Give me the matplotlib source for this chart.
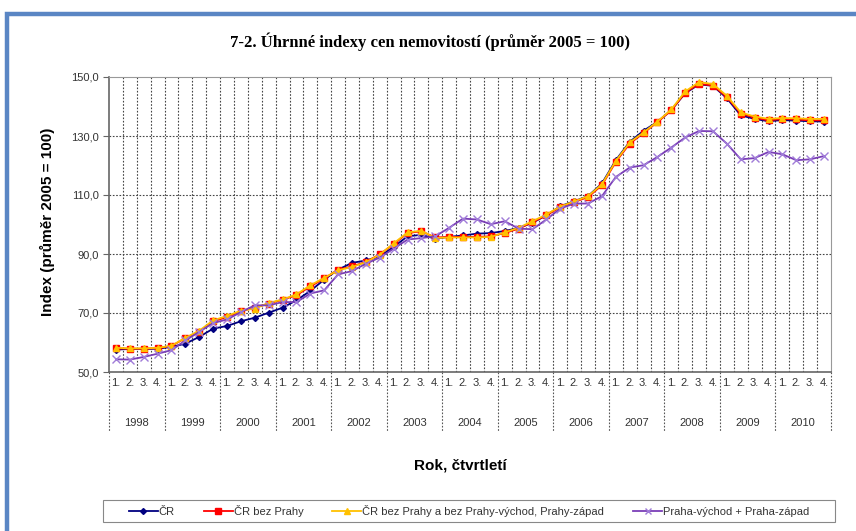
import numpy as np
import matplotlib.pyplot as plt
from matplotlib.lines import Line2D
from matplotlib.patches import Rectangle
import matplotlib.transforms as mtransforms

years = [str(y) for y in range(1998, 2011)]
quarters = ['1.', '2.', '3.', '4.']

# ČR
cr = [57.6, 57.8, 57.8, 57.9, 58.5, 59.6, 61.9, 64.7, 65.6, 67.2, 68.4, 70.1,
      71.8, 74.3, 77.5, 81.3, 84.7, 87.0, 87.8, 89.2, 92.4, 96.0, 96.5, 95.2,
      95.8, 96.3, 96.9, 97.1, 97.8, 98.8, 100.6, 103.1, 106.2, 107.9, 109.6, 113.9,
      121.8, 128.0, 131.8, 134.8, 138.8, 144.5, 147.5, 147.0, 142.8, 137.0, 135.8, 135.0,
      135.4, 135.2, 135.0, 134.9]
# ČR bez Prahy
cr_bez = [58.0, 57.9, 57.9, 58.1, 58.8, 61.5, 63.6, 67.2, 68.6, 70.6, 71.8, 73.2,
          74.5, 76.0, 79.0, 81.7, 84.7, 85.8, 87.3, 89.9, 93.3, 97.1, 97.7, 95.6,
          95.8, 95.8, 95.8, 96.0, 97.1, 98.6, 100.8, 103.1, 105.9, 107.6, 109.3, 113.3,
          121.2, 127.4, 131.0, 134.7, 138.7, 144.7, 147.7, 147.1, 143.2, 137.6, 136.2, 135.3,
          135.8, 135.6, 135.3, 135.3]
# ČR bez Prahy a bez Prahy-východ, Prahy-západ
cr_bez2 = [58.2, 58.0, 58.0, 58.2, 58.9, 61.6, 64.0, 67.5, 69.0, 70.8, 71.5, 73.4,
           74.6, 76.3, 79.4, 81.9, 84.5, 85.6, 87.2, 89.8, 93.6, 97.3, 97.9, 95.4,
           95.6, 95.6, 95.6, 95.8, 97.3, 98.9, 101.1, 103.4, 106.1, 107.8, 109.6, 113.6,
           121.5, 127.8, 131.2, 134.9, 139.0, 145.1, 148.3, 147.6, 143.6, 138.0, 136.6, 135.8,
           136.1, 136.0, 135.8, 135.8]
# Praha-východ + Praha-západ
praha = [54.3, 54.2, 55.1, 56.2, 57.4, 60.7, 63.6, 66.6, 67.8, 70.3, 72.6, 72.6,
         73.7, 73.7, 76.6, 77.7, 83.1, 84.2, 86.7, 88.8, 91.8, 94.9, 95.4, 96.0,
         98.9, 102.0, 101.7, 100.1, 101.1, 98.6, 98.4, 101.7, 105.4, 107.1, 107.1, 109.6,
         116.1, 119.3, 120.1, 122.9, 126.1, 129.5, 131.7, 131.6, 127.4, 122.1, 122.5, 124.6,
         123.8, 121.8, 122.1, 123.2]

W, H = 856, 531
fig = plt.figure(figsize=(W / 100, H / 100), dpi=100)
plt.rcParams['font.family'] = ['Liberation Sans', 'DejaVu Sans']

# blue frame (cut off on right and bottom like the reference)
fig.patches.append(Rectangle((6.5 / W, -0.1), 1.2, 1 - 14 / H + 0.1,
                             transform=fig.transFigure, fill=False,
                             edgecolor='#5A86C4', linewidth=3.2))

ax = fig.add_axes([109 / W, 1 - 372 / H, (831 - 109) / W, (372 - 77) / H])
x = np.arange(len(cr))

ax.plot(x, cr, color='#000080', lw=1.3, marker='D', ms=3, zorder=3)
ax.plot(x, cr_bez, color='#FF0000', lw=1.3, marker='s', ms=4.5, zorder=4)
ax.plot(x, cr_bez2, color='#FFC000', lw=1.3, marker='^', ms=5, zorder=5)
ax.plot(x, praha, color='#7B3FB8', lw=1.3, marker='x', ms=6, mew=1,
        mec='#A07CD8', zorder=6)

ax.set_xlim(-0.5, len(cr) - 0.5)
ax.set_ylim(50, 150)
ax.set_yticks([50, 70, 90, 110, 130, 150])
ax.set_yticklabels([f'{v},0' for v in [50, 70, 90, 110, 130, 150]],
                   fontsize=8, color='#333333')
ax.set_xticks(np.arange(-0.5, len(cr), 1))
ax.set_xticklabels([])
ax.tick_params(axis='x', length=0)
ax.tick_params(axis='y', length=4, color='#666666')

for v in [70, 90, 110, 130]:
    ax.axhline(v, color='#444444', lw=0.8, ls=(0, (1.5, 1.5)), zorder=1)
for xv in np.arange(0.5, len(cr) - 0.5, 1):
    ax.axvline(xv, color='#444444', lw=0.8, ls=(0, (1.5, 1.5)), zorder=1)

for s in ['top', 'right']:
    ax.spines[s].set_color('#999999')
for s in ['left', 'bottom']:
    ax.spines[s].set_color('#666666')
    ax.spines[s].set_linewidth(1.2)

# category labels below the axis
trans = mtransforms.blended_transform_factory(ax.transData, fig.transFigure)
for i in range(len(cr)):
    ax.text(i, 1 - 383 / H, quarters[i % 4], transform=trans, ha='center',
            va='center', fontsize=8, color='#333333')
for k, yr in enumerate(years):
    ax.text(4 * k + 1.5, 1 - 423 / H, yr, transform=trans, ha='center',
            va='center', fontsize=8, color='#333333')
for k in range(len(years) + 1):
    ax.add_line(Line2D([4 * k - 0.5, 4 * k - 0.5], [1 - 372 / H, 1 - 432 / H],
                       transform=trans, color='#555555', lw=0.8,
                       ls=(0, (1.5, 1.5)), clip_on=False))

fig.text(430 / W, 1 - 42 / H, '7-2. Úhrnné indexy cen nemovitostí (průměr 2005 = 100)',
         ha='center', va='center', fontsize=12, fontweight='bold',
         family=['Liberation Serif', 'DejaVu Serif'])
fig.text(47 / W, 1 - 222 / H, 'Index (průměr 2005 = 100)', rotation=90,
         ha='center', va='center', fontsize=11, fontweight='bold')
fig.text(460 / W, 1 - 466 / H, 'Rok, čtvrtletí', ha='center', va='center',
         fontsize=11, fontweight='bold')

# legend box
fig.patches.append(Rectangle((103 / W, 1 - 522 / H), (835 - 103) / W, 22 / H,
                             transform=fig.transFigure, fill=False,
                             edgecolor='#888888', linewidth=0.8))
handles = [
    Line2D([], [], color='#000080', lw=1.3, marker='D', ms=3),
    Line2D([], [], color='#FF0000', lw=1.3, marker='s', ms=4),
    Line2D([], [], color='#FFC000', lw=1.3, marker='^', ms=4.5),
    Line2D([], [], color='#7B3FB8', lw=1.3, marker='x', ms=5, mec='#A07CD8'),
]
labels = ['ČR', 'ČR bez Prahy', 'ČR bez Prahy a bez Prahy-východ, Prahy-západ',
          'Praha-východ + Praha-západ']
leg = fig.legend(handles, labels, loc='center', ncol=4,
                 bbox_to_anchor=(469 / W, 1 - 511 / H), fontsize=8,
                 frameon=False, handlelength=2.6, handletextpad=0.1,
                 columnspacing=2.6, borderpad=0.35)
for t in leg.get_texts():
    t.set_color('#333333')

fig.savefig('out.png', dpi=100)
